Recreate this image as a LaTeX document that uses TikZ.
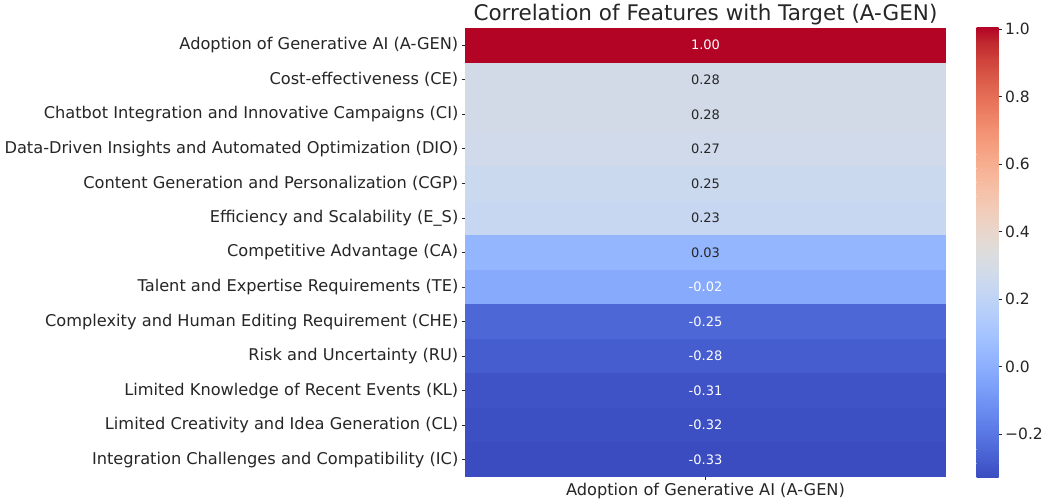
\documentclass[tikz,border=0pt]{standalone}
\usepackage{fontspec}
\setmainfont{DejaVu Sans}
\definecolor{txt}{RGB}{38,38,38}
\definecolor{cw0}{rgb}{0.230,0.299,0.754}
\definecolor{cw1}{rgb}{0.266,0.353,0.801}
\definecolor{cw2}{rgb}{0.304,0.407,0.845}
\definecolor{cw3}{rgb}{0.343,0.459,0.884}
\definecolor{cw4}{rgb}{0.383,0.509,0.917}
\definecolor{cw5}{rgb}{0.424,0.558,0.946}
\definecolor{cw6}{rgb}{0.467,0.605,0.968}
\definecolor{cw7}{rgb}{0.510,0.648,0.985}
\definecolor{cw8}{rgb}{0.553,0.689,0.995}
\definecolor{cw9}{rgb}{0.596,0.726,1.000}
\definecolor{cw10}{rgb}{0.639,0.760,0.998}
\definecolor{cw11}{rgb}{0.681,0.789,0.990}
\definecolor{cw12}{rgb}{0.722,0.814,0.977}
\definecolor{cw13}{rgb}{0.761,0.834,0.957}
\definecolor{cw14}{rgb}{0.799,0.850,0.932}
\definecolor{cw15}{rgb}{0.833,0.860,0.901}
\definecolor{cw16}{rgb}{0.865,0.865,0.865}
\definecolor{cw17}{rgb}{0.898,0.849,0.821}
\definecolor{cw18}{rgb}{0.924,0.827,0.775}
\definecolor{cw19}{rgb}{0.944,0.801,0.727}
\definecolor{cw20}{rgb}{0.959,0.770,0.678}
\definecolor{cw21}{rgb}{0.967,0.734,0.629}
\definecolor{cw22}{rgb}{0.970,0.694,0.579}
\definecolor{cw23}{rgb}{0.967,0.650,0.530}
\definecolor{cw24}{rgb}{0.958,0.603,0.482}
\definecolor{cw25}{rgb}{0.944,0.552,0.434}
\definecolor{cw26}{rgb}{0.924,0.497,0.388}
\definecolor{cw27}{rgb}{0.899,0.440,0.343}
\definecolor{cw28}{rgb}{0.869,0.378,0.300}
\definecolor{cw29}{rgb}{0.835,0.313,0.259}
\definecolor{cw30}{rgb}{0.796,0.241,0.221}
\definecolor{cw31}{rgb}{0.753,0.157,0.184}
\definecolor{cw32}{rgb}{0.706,0.016,0.150}
\definecolor{c1}{RGB}{180,4,38}
\definecolor{c2}{RGB}{210,218,232}
\definecolor{c3}{RGB}{210,218,232}
\definecolor{c4}{RGB}{208,218,234}
\definecolor{c5}{RGB}{203,217,238}
\definecolor{c6}{RGB}{199,215,241}
\definecolor{c7}{RGB}{148,182,255}
\definecolor{c8}{RGB}{135,170,252}
\definecolor{c9}{RGB}{77,103,215}
\definecolor{c10}{RGB}{70,93,207}
\definecolor{c11}{RGB}{63,83,198}
\definecolor{c12}{RGB}{61,80,195}
\definecolor{c13}{RGB}{59,76,192}
\tikzset{
  lab/.style={anchor=east,inner sep=0pt,text=txt,font=\fontsize{16.2}{19}\selectfont},
  ann/.style={inner sep=0pt,font=\fontsize{13}{15}\selectfont},
  cbl/.style={anchor=west,inner sep=0pt,text=txt,font=\fontsize{15.5}{18}\selectfont},
  tickline/.style={draw=txt,line width=0.8pt},
}
\begin{document}
\begin{tikzpicture}[x=1pt,y=-1pt]
\useasboundingbox[fill=white] (0,0) rectangle (1042,502);
% title
\node[inner sep=0pt,text=txt,font=\fontsize{21.5}{25}\selectfont] (title) at (705.5,14.5) {Correlation of Features with Target (A-GEN)};
% rows
\foreach \i/\lab/\val/\tc in {
 1/Adoption of Generative AI (A-GEN)/1.00/white,
 2/Cost-effectiveness (CE)/0.28/txt,
 3/Chatbot Integration and Innovative Campaigns (CI)/0.28/txt,
 4/Data-Driven Insights and Automated Optimization (DIO)/0.27/txt,
 5/Content Generation and Personalization (CGP)/0.25/txt,
 6/Efficiency and Scalability (E\_S)/0.23/txt,
 7/Competitive Advantage (CA)/0.03/txt,
 8/Talent and Expertise Requirements (TE)/-0.02/white,
 9/Complexity and Human Editing Requirement (CHE)/-0.25/white,
 10/Risk and Uncertainty (RU)/-0.28/white,
 11/Limited Knowledge of Recent Events (KL)/-0.31/white,
 12/Limited Creativity and Idea Generation (CL)/-0.32/white,
 13/Integration Challenges and Compatibility (IC)/-0.33/white}{
  \pgfmathsetmacro\ytop{28+(\i-1)*449/13}
  \pgfmathsetmacro\ybot{28+\i*449/13}
  \pgfmathsetmacro\yc{28+(\i-0.5)*449/13}
  \fill[c\i] (465,\ytop) rectangle (946,\ybot);
  \node[ann,text=\tc] (v\i) at (705.5,\yc) {\val};
  \draw[tickline] (461.5,\yc) -- (465,\yc);
  \node[lab] (l\i) at (458.5,\yc) {\lab};
}
% x axis tick + label
\draw[tickline] (705.5,477) -- (705.5,480.5);
\node[inner sep=0pt,text=txt,font=\fontsize{16.2}{19}\selectfont] (xl) at (705.5,491) {Adoption of Generative AI (A-GEN)};
% colorbar
\foreach \k in {0,...,31}{
  \pgfmathtruncatemacro\kk{\k+1}
  \pgfmathsetmacro\yb{477.5-\k*449.5/32+0.4}
  \pgfmathsetmacro\yt{477.5-\kk*449.5/32-0.4}
  \shade[bottom color=cw\k,top color=cw\kk] (976.5,\yb) rectangle (998.5,\yt);
}
\foreach \v/\t in {1.0/1.0,0.8/0.8,0.6/0.6,0.4/0.4,0.2/0.2,0.0/0.0,-0.2/{\char"2212 0.2}}{
  \pgfmathsetmacro\yy{477-(\v+0.33)/1.33*449+1.2}
  \draw[tickline] (998.5,\yy) -- (1002,\yy);
  \node[cbl] at (1005,\yy) {\t};
}
\end{tikzpicture}
\end{document}
